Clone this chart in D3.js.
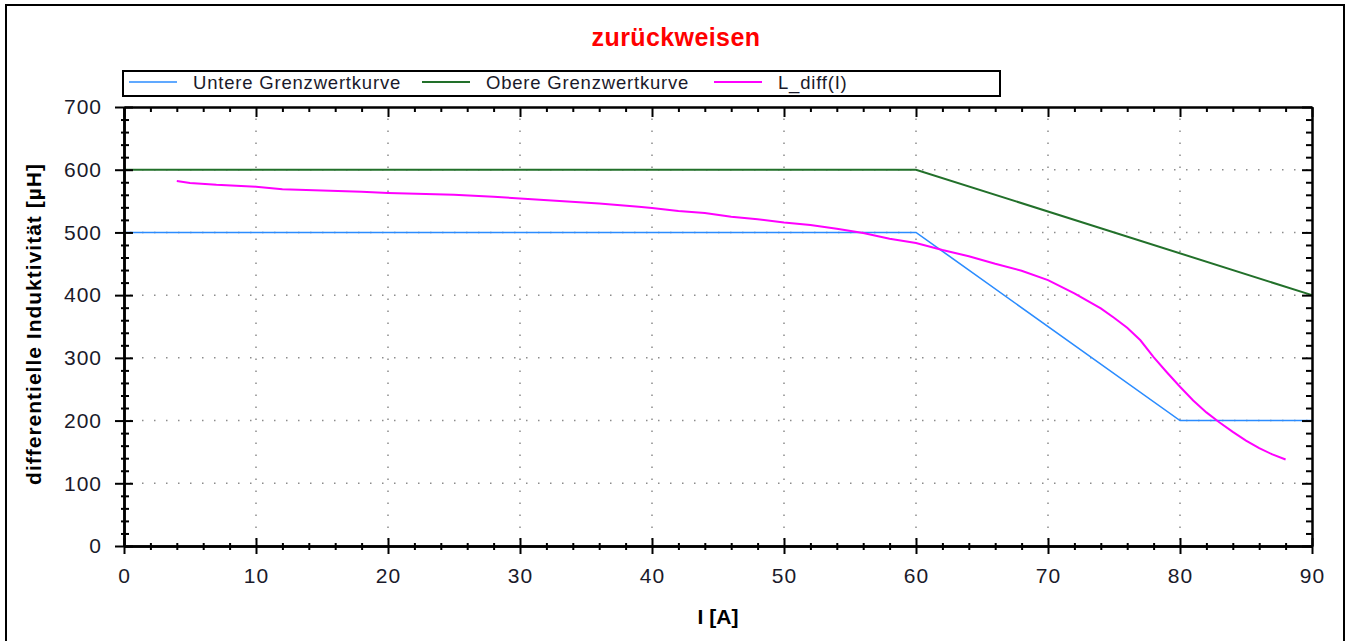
<!DOCTYPE html>
<html>
<head>
<meta charset="utf-8">
<script src="https://cdn.jsdelivr.net/npm/d3@7"></script>
<style>
  body { margin: 0; background: #fff; }
  text { font-family: "Liberation Sans", Arial, sans-serif; }
</style>
</head>
<body>
<div id="chart"></div>
<script>
// chart values
const titleText = "zurückweisen";
const seriesNames = ["Untere Grenzwertkurve", "Obere Grenzwertkurve", "L_diff(I)"];
const xTicks = [0, 10, 20, 30, 40, 50, 60, 70, 80, 90];
const yTicks = [0, 100, 200, 300, 400, 500, 600, 700];

const lowerI = [0, 60, 80, 90];
const lowerL = [500, 500, 200, 200];

const upperI = [0, 60, 90];
const upperL = [600, 600, 400];

const diffI = [4, 5, 7, 10, 12, 15, 18, 20, 25, 28, 30, 33, 36, 39, 40, 42, 44, 46, 48, 50,
  52, 54, 56, 58, 60, 62, 64, 66, 68, 70, 72, 74, 75, 76, 77, 78, 79, 80, 81, 82, 83, 84, 85, 86, 87, 88];
const diffL = [582, 579, 576, 573, 569, 567, 565, 563, 560, 557, 554, 550, 546, 541, 539, 534, 531, 525, 521, 516,
  512, 506, 499, 490, 483, 472, 462, 450, 439, 424, 403, 379, 364, 348, 328, 301, 277, 254, 232, 213, 197, 182, 168, 156, 146, 138];

const width = 1353;
const height = 641;
const plotLeft = 124, plotRight = 1312, plotTop = 107, plotBottom = 546;

const svg = d3.select("#chart")
  .append("svg")
  .attr("width", width)
  .attr("height", height);

// outer frame
svg.append("rect")
  .attr("x", 6).attr("y", 5)
  .attr("width", 1338).attr("height", 660)
  .attr("fill", "none")
  .attr("stroke", "#000")
  .attr("stroke-width", 2);

const x = d3.scaleLinear().domain([0, 90]).range([plotLeft, plotRight]);
const y = d3.scaleLinear().domain([0, 700]).range([plotBottom, plotTop]);

const minorX = d3.range(0, 91, 2).filter((d) => d % 10 !== 0);
const minorY = d3.range(0, 701, 20).filter((d) => d % 100 !== 0);

// dotted grid
svg.append("g")
  .selectAll("line")
  .data(xTicks.slice(1, -1))
  .enter()
  .append("line")
  .attr("x1", (d) => x(d)).attr("x2", (d) => x(d))
  .attr("y1", plotBottom - 6).attr("y2", plotTop + 4)
  .attr("stroke", "#8c8c8c")
  .attr("stroke-width", 1.5)
  .attr("stroke-dasharray", "1.5,10.5");

svg.append("g")
  .selectAll("line")
  .data(yTicks.slice(1, -1))
  .enter()
  .append("line")
  .attr("x1", plotLeft + 6).attr("x2", plotRight - 4)
  .attr("y1", (d) => y(d)).attr("y2", (d) => y(d))
  .attr("stroke", "#8c8c8c")
  .attr("stroke-width", 1.5)
  .attr("stroke-dasharray", "1.5,10.5");

// curves
const line = d3.line().x((d) => x(d[0])).y((d) => y(d[1]));

const series = [
  { name: seriesNames[0], pts: d3.zip(lowerI, lowerL), color: "#2b8cff", w: 1.6 },
  { name: seriesNames[1], pts: d3.zip(upperI, upperL), color: "#22702a", w: 2 },
  { name: seriesNames[2], pts: d3.zip(diffI, diffL), color: "#ff00ff", w: 2 },
];

svg.append("g")
  .selectAll("path")
  .data(series)
  .enter()
  .append("path")
  .attr("d", (d) => line(d.pts))
  .attr("fill", "none")
  .attr("stroke", (d) => d.color)
  .attr("stroke-width", (d) => d.w);

// axes (ticks on every side)
const styleAxis = (g) => {
  g.select(".domain").attr("stroke", "#000").attr("stroke-width", 2);
  g.selectAll(".tick line").attr("stroke", "#000").attr("stroke-width", 2);
  g.selectAll(".tick text")
    .attr("fill", "#1a1a2a")
    .style("font-size", "21px")
    .style("letter-spacing", "1px");
};

// bottom
svg.append("g").attr("transform", `translate(0,${plotBottom})`)
  .call(d3.axisBottom(x).tickValues(xTicks).tickSize(8).tickPadding(14).tickSizeOuter(0))
  .call(styleAxis);
svg.append("g").attr("transform", `translate(0,${plotBottom})`)
  .call(d3.axisTop(x).tickValues(xTicks).tickSize(8).tickFormat("").tickSizeOuter(0))
  .call(styleAxis);
svg.append("g").attr("transform", `translate(0,${plotBottom})`)
  .call(d3.axisBottom(x).tickValues(minorX).tickSize(4).tickFormat("").tickSizeOuter(0))
  .call(styleAxis);
svg.append("g").attr("transform", `translate(0,${plotBottom})`)
  .call(d3.axisTop(x).tickValues(minorX).tickSize(3).tickFormat("").tickSizeOuter(0))
  .call(styleAxis);

// left
svg.append("g").attr("transform", `translate(${plotLeft},0)`)
  .call(d3.axisLeft(y).tickValues(yTicks).tickSize(9).tickPadding(13).tickSizeOuter(0))
  .call(styleAxis);
svg.append("g").attr("transform", `translate(${plotLeft},0)`)
  .call(d3.axisRight(y).tickValues(yTicks).tickSize(9).tickFormat("").tickSizeOuter(0))
  .call(styleAxis);
svg.append("g").attr("transform", `translate(${plotLeft},0)`)
  .call(d3.axisRight(y).tickValues(minorY).tickSize(5).tickFormat("").tickSizeOuter(0))
  .call(styleAxis);
svg.append("g").attr("transform", `translate(${plotLeft},0)`)
  .call(d3.axisLeft(y).tickValues(minorY).tickSize(3).tickFormat("").tickSizeOuter(0))
  .call(styleAxis);

// top
svg.append("g").attr("transform", `translate(0,${plotTop})`)
  .call(d3.axisBottom(x).tickValues(xTicks).tickSize(10).tickFormat("").tickSizeOuter(0))
  .call(styleAxis);
svg.append("g").attr("transform", `translate(0,${plotTop})`)
  .call(d3.axisBottom(x).tickValues(minorX).tickSize(5).tickFormat("").tickSizeOuter(0))
  .call(styleAxis);

// right
svg.append("g").attr("transform", `translate(${plotRight},0)`)
  .call(d3.axisLeft(y).tickValues(yTicks).tickSize(10).tickFormat("").tickSizeOuter(0))
  .call(styleAxis);
svg.append("g").attr("transform", `translate(${plotRight},0)`)
  .call(d3.axisLeft(y).tickValues(minorY).tickSize(6).tickFormat("").tickSizeOuter(0))
  .call(styleAxis);

// title
svg.append("text")
  .attr("x", 676).attr("y", 46)
  .attr("text-anchor", "middle")
  .attr("fill", "#ff0000")
  .style("font-size", "25px")
  .style("font-weight", "bold")
  .style("letter-spacing", "0.4px")
  .text(titleText);

// axis titles
svg.append("text")
  .attr("x", 718).attr("y", 624)
  .attr("text-anchor", "middle")
  .style("font-size", "21px")
  .style("font-weight", "bold")
  .text("I [A]");

svg.append("text")
  .attr("transform", "translate(41,324) rotate(-90)")
  .attr("text-anchor", "middle")
  .style("font-size", "21px")
  .style("font-weight", "bold")
  .style("letter-spacing", "1px")
  .text("differentielle Induktivität [µH]");

// legend
const legend = svg.append("g");
legend.append("rect")
  .attr("x", 123).attr("y", 71)
  .attr("width", 877).attr("height", 25)
  .attr("fill", "#fff")
  .attr("stroke", "#000")
  .attr("stroke-width", 2);

const legendX = [129, 422, 714];
const items = legend.selectAll(".legend")
  .data(series)
  .enter()
  .append("g")
  .attr("class", "legend")
  .attr("transform", (d, i) => `translate(${legendX[i]}, 82)`);

items.append("line")
  .attr("x1", 0).attr("x2", 48)
  .attr("stroke", (d) => d.color)
  .attr("stroke-width", (d) => d.w);

items.append("text")
  .attr("x", 64).attr("y", 7)
  .attr("fill", "#1a1a2a")
  .style("font-size", "18.5px")
  .style("letter-spacing", "0.8px")
  .text((d) => d.name);
</script>
</body>
</html>
